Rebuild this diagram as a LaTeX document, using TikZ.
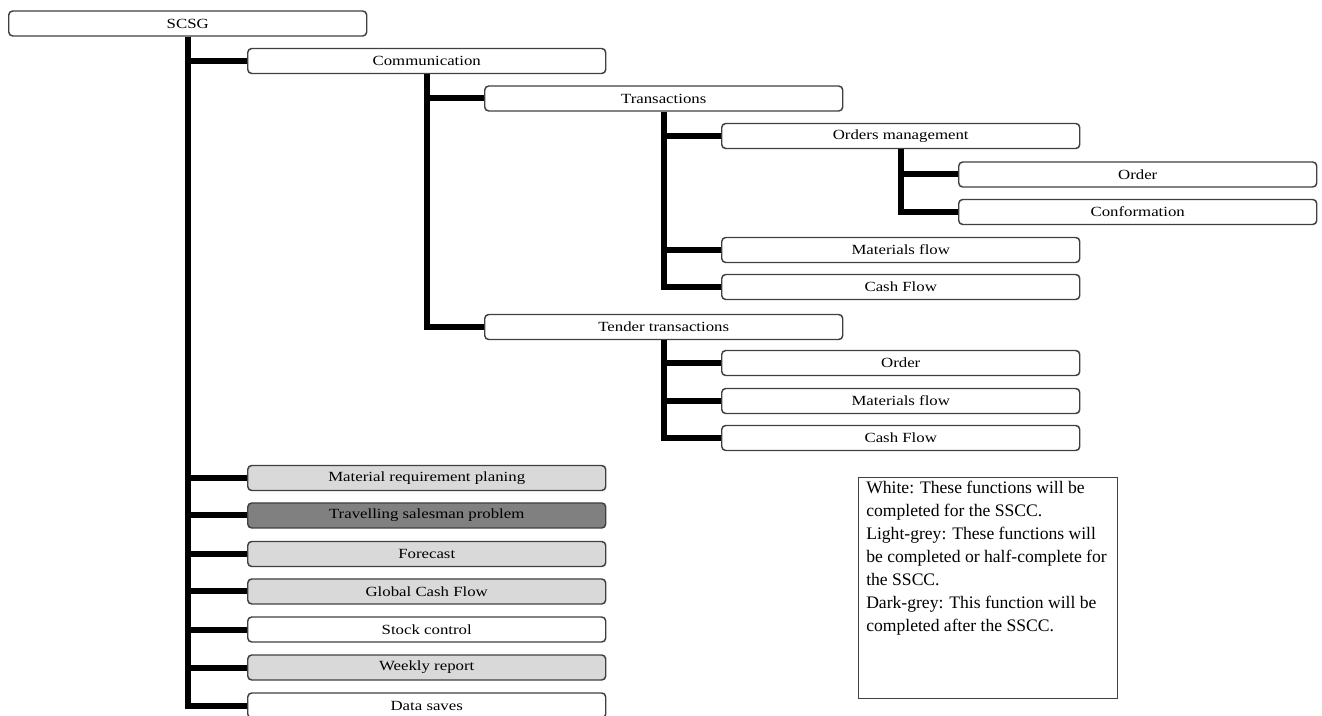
\documentclass[tikz,border=0pt]{standalone}
\usepackage{fontspec}
\setmainfont{Liberation Serif}
\newfontfamily\boxfont[FakeStretch=1.2]{Liberation Serif}
\definecolor{boxEdge}{HTML}{404040}
\definecolor{boxLight}{HTML}{D9D9D9}
\definecolor{boxDark}{HTML}{808080}
\begin{document}
\begin{tikzpicture}[x=0.75pt,y=-0.75pt,
    fn/.style={draw=boxEdge, line width=1.1pt, rounded corners=3pt, fill=white,
      minimum width=268.5pt, minimum height=18.75pt, inner sep=0pt, anchor=west,
      font=\boxfont\fontsize{10.5}{12}\selectfont},
    fnLight/.style={fn, fill=boxLight},
    fnDark/.style={fn, fill=boxDark},
    link/.style={line width=4.5pt}]
  \useasboundingbox (0,0) rectangle (1322,716);

  % root and communication branch
  \node[fn] (scsg) at (8,23.5) {SCSG};
  \node[fn] (comm) at (247,61) {Communication};
  \node[fn] (trans) at (484,98.5) {Transactions};
  \node[fn] (ordMgmt) at (721,136) {Orders management};
  \node[fn] (order) at (958,174.5) {Order};
  \node[fn] (conform) at (958,212) {Conformation};
  \node[fn] (matFlow) at (721,250) {Materials flow};
  \node[fn] (cashFlow) at (721,287) {Cash Flow};
  \node[fn] (tender) at (484,327) {Tender transactions};
  \node[fn] (tOrder) at (721,363) {Order};
  \node[fn] (tMatFlow) at (721,401) {Materials flow};
  \node[fn] (tCashFlow) at (721,438) {Cash Flow};

  % other functions
  \node[fnLight] (mrp) at (247,478) {Material requirement planing};
  \node[fnDark] (tsp) at (247,515.5) {Travelling salesman problem};
  \node[fnLight] (forecast) at (247,554) {Forecast};
  \node[fnLight] (globCash) at (247,591.5) {Global Cash Flow};
  \node[fn] (stock) at (247,629.5) {Stock control};
  \node[fnLight] (weekly) at (247,667.5) {Weekly report};
  \node[fn] (dataSaves) at (247,705.5) {Data saves};

  % tree links
  \foreach \child in {comm,mrp,tsp,forecast,globCash,stock,weekly,dataSaves}
    \draw[link] (scsg.south) |- (\child.west);
  \foreach \child in {trans,tender}
    \draw[link] (comm.south) |- (\child.west);
  \foreach \child in {ordMgmt,matFlow,cashFlow}
    \draw[link] (trans.south) |- (\child.west);
  \foreach \child in {order,conform}
    \draw[link] (ordMgmt.south) |- (\child.west);
  \foreach \child in {tOrder,tMatFlow,tCashFlow}
    \draw[link] (tender.south) |- (\child.west);

  % legend
  \node[draw=boxEdge, line width=1.1pt, minimum width=194.25pt, minimum height=165.75pt,
    inner sep=0pt, anchor=north west] (legend) at (858,477) {};
  \node[anchor=north west, inner sep=0pt, align=left,
    font=\fontsize{13.2}{17.25}\selectfont] (legendText) at ([shift={(8,4)}]legend.north west)
    {White: These functions will be\\
     completed for the SSCC.\\
     Light-grey: These functions will\\
     be completed or half-complete for\\
     the SSCC.\\
     Dark-grey: This function will be\\
     completed after the SSCC.};
\end{tikzpicture}
\end{document}
